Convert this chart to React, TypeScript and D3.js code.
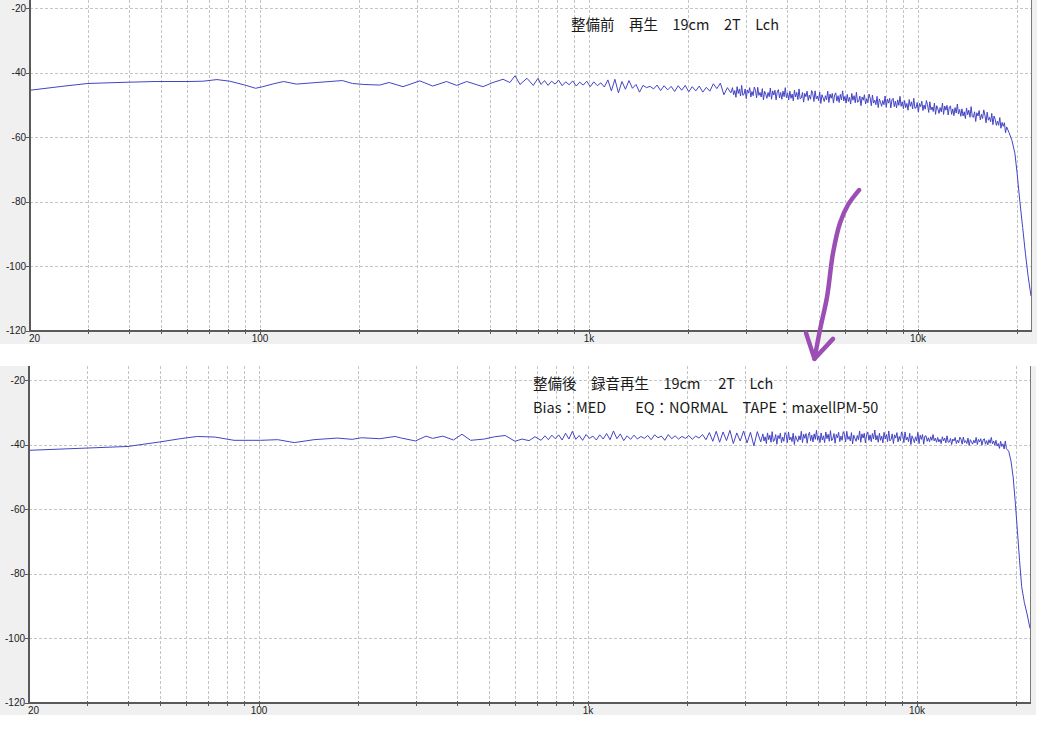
import React from 'react';
import * as d3 from 'd3';

const W = 1047;
const H = 732;

// ---------- axis definitions ----------
const freqDomain = [20, 22050];
const dbDomain = [-120, 0];
const dbTicks = [-20, -40, -60, -80, -100, -120];
const gridFreqs = [20, 30, 40, 50, 60, 70, 80, 90, 100, 200, 300, 400, 500, 600, 700, 800, 900,
  1000, 2000, 3000, 4000, 5000, 6000, 7000, 8000, 9000, 10000, 20000];
const freqLabelValues = [20, 100, 1000, 10000];
const freqLabelTexts = ['20', '100', '1k', '10k'];

// ---------- top panel data (整備前) ----------
const topSmoothF = [20, 25, 30, 40, 48, 60, 67, 74, 81, 90, 97, 102, 110, 118, 129, 149, 178, 191, 206, 231,
  247, 272, 306, 335, 369, 396, 425, 476, 511, 548, 575, 596, 617, 648, 677, 700];
const topSmoothDb = [-45.4, -44.2, -43.3, -42.9, -42.7, -42.7, -42.6, -42.1, -42.6, -43.8, -44.8, -44.3, -43.4,
  -42.7, -43.5, -43.0, -42.4, -43.3, -43.6, -43.8, -43.0, -44.3, -42.5, -44.1, -42.7, -43.9, -42.7, -44.3,
  -43.0, -42.0, -43.0, -40.9, -43.6, -41.7, -43.9, -41.7];
const topMidRange = [715, 2700];
const topMidDb = [
  -43.6, -42.4, -43.9, -42.6, -43.5, -42.3, -44.0, -42.8, -43.7, -42.5,
  -44.1, -42.9, -43.8, -42.6, -44.3, -42.8, -44.0, -43.1, -44.4, -42.2,
  -45.6, -42.0, -46.2, -42.7, -45.1, -42.4, -44.8, -43.6, -46.0, -43.9,
  -44.6, -44.2, -45.0, -43.8, -45.5, -44.0, -45.3, -44.2, -45.8, -44.0,
  -45.4, -43.9, -45.9, -44.3, -45.6, -44.1, -46.0, -44.5, -45.7, -43.4,
  -44.9, -43.2, -46.8, -44.6, -46.2];
const topDenseRange = [2730, 18600];
const topDenseDb = [
  -44.6, -46.8, -45.5, -47.6, -44.3, -46.4, -45.0, -47.2, -43.9, -47.0,
  -46.7, -45.0, -48.0, -45.3, -46.3, -44.6, -47.5, -45.8, -47.1, -44.4,
  -45.4, -47.8, -44.5, -47.0, -46.1, -47.5, -44.9, -48.4, -45.7, -46.7,
  -47.9, -46.1, -47.4, -44.7, -48.2, -45.6, -46.9, -45.4, -48.4, -45.9,
  -45.2, -47.8, -46.1, -48.2, -45.7, -47.4, -44.6, -47.7, -46.3, -48.4,
  -45.7, -47.9, -46.6, -48.7, -45.4, -47.5, -46.1, -48.3, -45.0, -48.1,
  -47.8, -46.1, -49.1, -46.4, -47.4, -45.7, -48.6, -46.9, -48.2, -45.5,
  -46.5, -48.9, -45.6, -48.1, -47.2, -48.6, -46.0, -49.5, -46.8, -47.8,
  -48.9, -47.1, -48.4, -45.7, -49.2, -46.6, -47.9, -46.4, -49.4, -46.9,
  -46.2, -48.8, -47.1, -49.2, -46.7, -48.4, -45.6, -48.7, -47.3, -49.4,
  -46.7, -48.9, -47.6, -49.7, -46.4, -48.5, -47.1, -49.3, -46.0, -49.1,
  -48.9, -47.2, -50.2, -47.5, -48.5, -46.8, -49.7, -48.0, -49.3, -46.6,
  -47.8, -50.2, -46.9, -49.4, -48.5, -49.9, -47.3, -50.8, -48.1, -49.1,
  -50.4, -48.6, -49.9, -47.2, -50.7, -48.1, -49.4, -47.9, -50.9, -48.4,
  -47.9, -50.5, -48.8, -50.9, -48.4, -50.1, -47.3, -50.4, -49.0, -51.1,
  -48.6, -50.8, -49.5, -51.6, -48.3, -50.4, -49.0, -51.2, -47.9, -51.0,
  -50.9, -49.2, -52.2, -49.5, -50.5, -48.8, -51.7, -50.0, -51.3, -48.6,
  -49.9, -52.3, -49.0, -51.5, -50.6, -52.0, -49.4, -52.9, -50.2, -51.2,
  -52.6, -50.8, -52.1, -49.4, -52.9, -50.3, -51.6, -50.1, -53.1, -50.6,
  -50.3, -52.9, -51.2, -53.3, -50.8, -52.5, -49.7, -52.8, -51.4, -53.5,
  -51.2, -53.4, -52.1, -54.2, -50.9, -53.0, -51.6, -53.8, -50.5, -53.6,
  -53.8, -52.1, -55.1, -52.4, -53.4, -51.7, -54.6, -52.9, -54.2, -51.5,
  -53.1, -55.5, -52.2, -54.7, -53.8, -55.2, -52.6, -56.1, -53.4, -54.4,
  -56.3, -55.0, -56.3, -53.9, -57.2, -55.4, -56.6, -55.5, -58.6, -56.8];
const topTailF = [18900, 19300, 19700, 20000, 20400, 20800, 21200, 21600, 22050];
const topTailDb = [-58.5, -61, -65, -71, -80, -88, -96, -103, -109.3];

// ---------- bottom panel data (整備後) ----------
const botSmoothF = [20, 30, 40, 50, 57.6, 65, 73.6, 84, 101, 114, 128, 147, 173, 192, 205, 233, 259, 271, 299,
  322, 337, 362, 390, 414, 440, 484, 520, 560, 600, 630, 662, 690, 720];
const botSmoothDb = [-41.7, -41.0, -40.5, -39.1, -38.1, -37.4, -37.6, -38.6, -38.6, -38.4, -39.3, -38.4, -37.9,
  -38.3, -37.8, -38.1, -37.4, -37.9, -38.8, -37.3, -38.0, -37.3, -38.5, -36.7, -38.6, -38.2, -37.5, -37.1,
  -38.9, -38.2, -38.7, -37.5, -38.6];
const botMidRange = [740, 3350];
const botMidDb = [
  -37.2, -38.4, -37.0, -38.1, -36.9, -38.5, -36.4, -38.2, -35.8, -38.3,
  -37.1, -38.6, -36.8, -38.0, -37.3, -38.5, -36.9, -38.2, -36.5, -38.4,
  -35.7, -38.1, -36.6, -38.7, -37.2, -38.3, -37.0, -38.2, -37.4, -38.0,
  -37.1, -38.4, -36.9, -37.8, -37.3, -38.6, -36.8, -38.1, -37.2, -38.2,
  -37.4, -38.0, -37.1, -38.3, -37.3, -37.9, -36.8, -38.4, -36.2, -38.9,
  -35.8, -39.2, -36.0, -38.7, -35.5, -39.6, -36.3, -38.8, -35.7, -39.4,
  -36.1, -40.3, -35.9, -39.1];
const botDenseRange = [3400, 18700];
const botDenseDb = [
  -36.6, -38.8, -37.5, -39.6, -36.3, -38.4, -37.0, -39.2, -35.9, -39.0,
  -38.5, -36.8, -39.8, -37.1, -38.1, -36.4, -39.3, -37.6, -38.9, -36.2,
  -36.9, -39.3, -36.0, -38.5, -37.6, -39.0, -36.4, -39.9, -37.2, -38.2,
  -39.0, -37.2, -38.5, -35.8, -39.3, -36.7, -38.0, -36.5, -39.5, -37.0,
  -36.1, -38.7, -37.0, -39.1, -36.6, -38.3, -35.5, -38.6, -37.2, -39.3,
  -36.3, -38.5, -37.2, -39.3, -36.0, -38.1, -36.7, -38.9, -35.6, -38.7,
  -38.2, -36.5, -39.5, -36.8, -37.8, -36.1, -39.0, -37.3, -38.6, -35.9,
  -36.7, -39.1, -35.8, -38.3, -37.4, -38.8, -36.2, -39.7, -37.0, -38.0,
  -38.9, -37.1, -38.4, -35.7, -39.2, -36.6, -37.9, -36.4, -39.4, -36.9,
  -36.0, -38.6, -36.9, -39.0, -36.5, -38.2, -35.4, -38.5, -37.1, -39.2,
  -36.4, -38.6, -37.3, -39.4, -36.1, -38.2, -36.8, -39.0, -35.7, -38.8,
  -38.3, -36.6, -39.6, -36.9, -37.9, -36.2, -39.1, -37.4, -38.7, -36.0,
  -36.9, -39.3, -36.0, -38.5, -37.6, -39.0, -36.4, -39.9, -37.2, -38.2,
  -39.3, -37.5, -38.8, -36.1, -39.6, -37.0, -38.3, -36.8, -39.8, -37.3,
  -37.2, -38.9, -37.8, -39.1, -37.5, -38.6, -36.8, -38.8, -37.9, -39.2,
  -37.7, -39.1, -38.3, -39.6, -37.5, -38.8, -37.9, -39.4, -37.2, -39.2,
  -39.1, -38.0, -39.9, -38.2, -38.8, -37.7, -39.6, -38.5, -39.4, -37.6,
  -38.2, -39.8, -37.6, -39.3, -38.7, -39.6, -37.9, -40.2, -38.4, -39.1,
  -39.8, -38.6, -39.4, -37.7, -39.9, -38.3, -39.1, -38.1, -40.1, -38.5,
  -38.1, -39.8, -38.7, -40.0, -38.4, -39.5, -37.7, -39.7, -38.8, -40.1,
  -38.6, -40.4, -39.6, -41.1, -38.9, -40.5, -39.7, -41.3, -38.8, -41.2];
const botTailF = [19000, 19300, 19600, 19900, 20200, 20500, 20800, 21200, 21600, 22050];
const botTailDb = [-42, -45, -50, -58, -67, -76, -84, -89, -92.5, -97];

// ---------- annotation texts ----------
const topTitle = '整備前　再生　19cm　2T　Lch';
const botTitle1 = '整備後　録音再生　19cm　 2T　Lch';
const botTitle2 = 'Bias：MED　　EQ：NORMAL　TAPE：maxellPM-50';

// arrow annotation in top-panel data coordinates [Hz, dB]
const arrowShaftF = [6618, 6126, 5793, 5517, 5290, 5036, 4846];
const arrowShaftDb = [-76.4, -81.0, -86.6, -95.9, -109.6, -119.8, -128.8];
const arrowHeadF = [4568, 4846, 5517];
const arrowHeadDb = [-120.8, -128.8, -122.6];

type Pt = [number, number];

function spread(range: number[], values: number[]): Pt[] {
  const [f0, f1] = range;
  const n = values.length;
  const lf0 = Math.log10(f0), lf1 = Math.log10(f1);
  return values.map((v, i) => [Math.pow(10, lf0 + (lf1 - lf0) * (i / (n - 1))), v] as Pt);
}

function zipPts(f: number[], v: number[]): Pt[] {
  return f.map((fr, i) => [fr, v[i]] as Pt);
}

const topSeries: Pt[] = [
  ...zipPts(topSmoothF, topSmoothDb),
  ...spread(topMidRange, topMidDb),
  ...spread(topDenseRange, topDenseDb),
  ...zipPts(topTailF, topTailDb),
];
const botSeries: Pt[] = [
  ...zipPts(botSmoothF, botSmoothDb),
  ...spread(botMidRange, botMidDb),
  ...spread(botDenseRange, botDenseDb),
  ...zipPts(botTailF, botTailDb),
];

const LABEL_FONT = '"Liberation Sans", Arial, sans-serif';
const JP_FONT = '"Noto Sans CJK JP", "Noto Sans", sans-serif';

interface PanelProps {
  id: string;
  gray: { x0: number; x1: number; y0: number; y1: number };
  plot: { x0: number; x1: number; y0: number; yBottom: number; yZero: number };
  series: Pt[];
}

function Panel({ id, gray, plot, series }: PanelProps) {
  const x = d3.scaleLog().domain(freqDomain).range([plot.x0, plot.x1]);
  const y = d3.scaleLinear().domain(dbDomain).range([plot.yBottom, plot.yZero]);
  const line = d3.line<Pt>().x(d => x(d[0])).y(d => y(d[1]));
  const px = (v: number) => Math.round(v) + 0.5;
  return (
    <g>
      <defs>
        <clipPath id={`clip-${id}`}>
          <rect x={plot.x0} y={plot.y0} width={plot.x1 - plot.x0} height={plot.yBottom - plot.y0} />
        </clipPath>
      </defs>
      <rect x={gray.x0} y={gray.y0} width={gray.x1 - gray.x0} height={gray.y1 - gray.y0} fill="#f0f0f0" />
      <rect x={plot.x0} y={plot.y0} width={plot.x1 - plot.x0} height={plot.yBottom - plot.y0} fill="#ffffff" />
      {/* grid */}
      <g stroke="#c4c4c4" strokeWidth={1} strokeDasharray="3 2" shapeRendering="crispEdges">
        {gridFreqs.slice(1).map(f => (
          <line key={`gx${f}`} x1={px(x(f))} x2={px(x(f))} y1={plot.y0} y2={plot.yBottom} />
        ))}
        {dbTicks.slice(0, -1).map(d => (
          <line key={`gy${d}`} x1={plot.x0} x2={plot.x1} y1={px(y(d))} y2={px(y(d))} />
        ))}
      </g>
      {/* series */}
      <path d={line(series) || ''} fill="none" stroke="#4444c4" strokeWidth={1}
        clipPath={`url(#clip-${id})`} strokeLinejoin="round" />
      {/* axis lines */}
      <g shapeRendering="crispEdges">
        <line x1={plot.x1 + 0.5} x2={plot.x1 + 0.5} y1={plot.y0} y2={plot.yBottom} stroke="#7a7a7a" strokeWidth={1} />
        <line x1={plot.x0} x2={plot.x0} y1={plot.y0} y2={plot.yBottom + 1} stroke="#5a5a5a" strokeWidth={2} />
        <line x1={plot.x0 - 1} x2={plot.x1 + 1} y1={Math.round(plot.yBottom)} y2={Math.round(plot.yBottom)} stroke="#5a5a5a" strokeWidth={2} />
        {gridFreqs.slice(1).map(f => (
          <line key={`tx${f}`} x1={px(x(f))} x2={px(x(f))} y1={plot.yBottom - 2} y2={plot.yBottom + 3} stroke="#5a5a5a" strokeWidth={1} />
        ))}
        {dbTicks.map(d => (
          <line key={`ty${d}`} x1={plot.x0 - 4} x2={plot.x0} y1={px(y(d))} y2={px(y(d))} stroke="#5a5a5a" strokeWidth={1} />
        ))}
      </g>
      {/* tick labels */}
      <g fontFamily={LABEL_FONT} fontSize={10} fill="#222">
        {dbTicks.map(d => (
          <text key={`ly${d}`} x={plot.x0 - 4} y={y(d) + 3.5} textAnchor="end">{String(d)}</text>
        ))}
        {freqLabelValues.map((f, i) => (
          <text key={`lx${f}`} x={i === 0 ? x(f) - 1 : x(f)} y={plot.yBottom + 11}
            textAnchor={i === 0 ? 'start' : 'middle'}>{freqLabelTexts[i]}</text>
        ))}
      </g>
    </g>
  );
}

export default function App() {
  const topPlot = { x0: 30, x1: 1031, y0: 0, yBottom: 330.5, yZero: -56 };
  const botPlot = { x0: 29, x1: 1030, y0: 366, yBottom: 702.5, yZero: 316 };
  const xTop = d3.scaleLog().domain(freqDomain).range([topPlot.x0, topPlot.x1]);
  const yTop = d3.scaleLinear().domain(dbDomain).range([topPlot.yBottom, topPlot.yZero]);
  const arrowLine = d3.line<Pt>().x(d => xTop(d[0])).y(d => yTop(d[1])).curve(d3.curveCatmullRom);
  const headLine = d3.line<Pt>().x(d => xTop(d[0])).y(d => yTop(d[1]));
  return (
    <div style={{ position: 'absolute', left: 0, top: 0, width: W, height: H, background: '#fff' }}>
      <svg width={W} height={H} style={{ display: 'block' }}>
        <rect x={0} y={0} width={W} height={H} fill="#ffffff" />
        <Panel id="top" gray={{ x0: 0, x1: 1037, y0: 0, y1: 344 }} plot={topPlot} series={topSeries} />
        <Panel id="bot" gray={{ x0: 0, x1: 1036, y0: 366, y1: 715 }} plot={botPlot} series={botSeries} />
        <g fontFamily={JP_FONT} fontSize={14.5} fill="#1a1a1a" style={{ whiteSpace: 'pre' }}>
          <text x={571} y={30}>{topTitle}</text>
          <text x={533} y={389}>{botTitle1}</text>
          <text x={533} y={413}>{botTitle2}</text>
        </g>
        <g fill="none" stroke="#9b4fb4" strokeWidth={4.5} strokeLinecap="round" strokeLinejoin="round">
          <path d={arrowLine(zipPts(arrowShaftF, arrowShaftDb)) || ''} />
          <path d={headLine(zipPts(arrowHeadF, arrowHeadDb)) || ''} />
        </g>
      </svg>
    </div>
  );
}
